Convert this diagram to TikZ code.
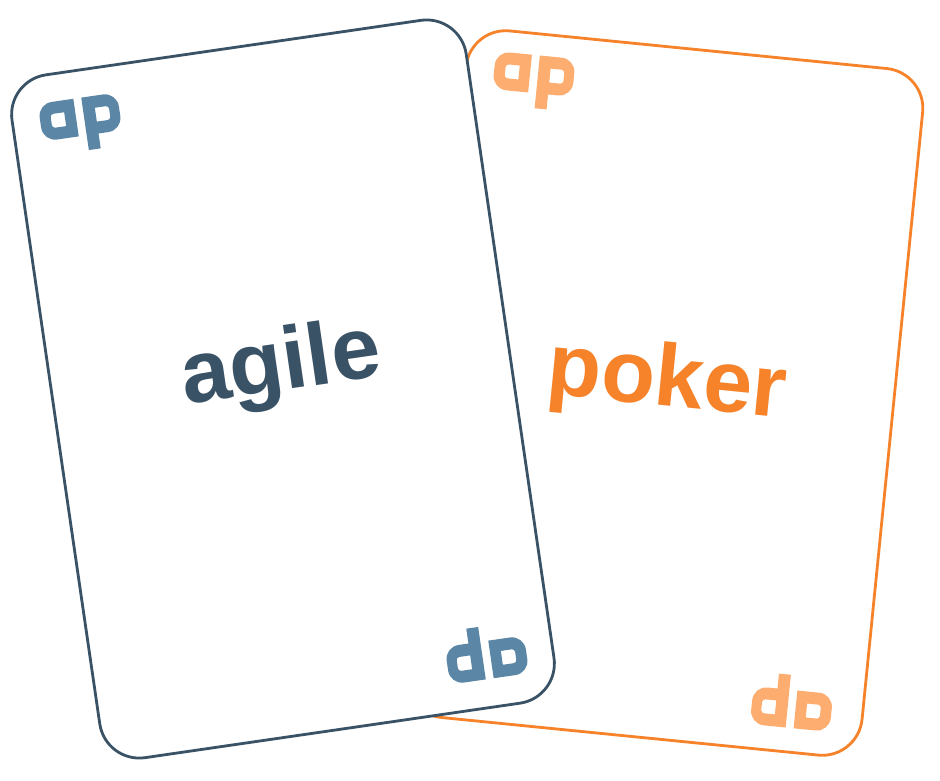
\documentclass[tikz,border=0pt]{standalone}
\usepackage{fontspec}
\setmainfont{Liberation Sans}
\definecolor{slate}{HTML}{3A5266}
\definecolor{steel}{HTML}{5B86A6}
\definecolor{orange}{HTML}{F6822A}
\definecolor{peach}{HTML}{FDAD70}
\tikzstyle{base}=[x=1pt, y=-1pt, inner sep=0pt, outer sep=0pt]
\tikzstyle{card}=[fill=white, line width=2.8pt, rounded corners=40pt, minimum width=459pt, minimum height=690pt]
\tikzstyle{word}=[font=\fontsize{88}{88}\selectfont\bfseries]
\newcommand*{\aplogo}[4]{
    \begin{scope}[shift={(#1,#2)}, rotate=#3]
        \fill [#4, even odd rule] (-4,-19) [rounded corners=14pt] -- (-40,-19) -- (-40,19) [sharp corners] -- (-4,19) -- cycle
            (-15,-7) [rounded corners=3pt] -- (-29,-7) -- (-29,7) [sharp corners] -- (-15,7) -- cycle;
        \fill [#4, even odd rule] (4,-19) [rounded corners=14pt] -- (40,-19) -- (40,19) [sharp corners] -- (16,19) -- (16,34) -- (4,34) -- cycle
            (16,-7) [rounded corners=3pt] -- (30,-7) -- (30,7) [sharp corners] -- (16,7) -- cycle;
    \end{scope}
}

\begin{document}
\begin{tikzpicture}[base]
    \path [use as bounding box] (0,0) rectangle (940,780);
    % orange card lies underneath
    \node (pokercard) [card, draw=orange, rotate=-5.7] at (664,393) {};
    \aplogo{534}{74}{-5.7}{peach}
    \aplogo{791.5}{709}{174.3}{peach}
    \node (pokerword) [word, orange, rotate=-5.7] at (667,383) {poker};
    \node (agilecard) [card, draw=slate, rotate=8.27] at (283,389) {};
    \aplogo{80}{117}{8.27}{steel}
    \aplogo{487}{660}{188.27}{steel}
    \node (agileword) [word, slate, rotate=8.27] at (281,368) {agile};
\end{tikzpicture}
\end{document}
